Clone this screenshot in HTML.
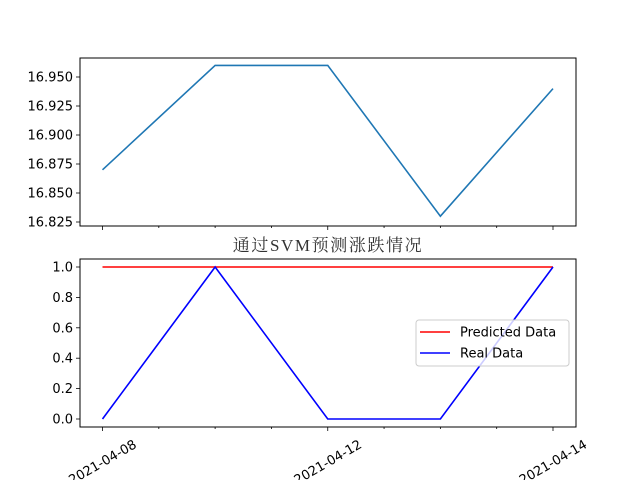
<!DOCTYPE html>
<html><head><meta charset="utf-8"><style>
body{margin:0;background:#fff;}
svg text{font-family:"DejaVu Sans","Liberation Sans",sans-serif;font-size:13px;fill:#000;}
</style></head><body>
<svg id="c" width="640" height="480" xmlns="http://www.w3.org/2000/svg"></svg>
<script>
const categories = ["2021-04-08","2021-04-09","2021-04-12","2021-04-13","2021-04-14"];
const tickLabels = ["2021-04-08","","2021-04-12","","2021-04-14"];
const priceValues = [16.87,16.96,16.96,16.83,16.94];
const priceTicks = [16.825,16.850,16.875,16.900,16.925,16.950];
const predictedValues = [1,1,1,1,1];
const realValues = [0,1,0,0,1];
const binTicks = [0.0,0.2,0.4,0.6,0.8,1.0];

const NS="http://www.w3.org/2000/svg";
const svg=document.getElementById('c');
function mk(tag,attrs,parent){const e=document.createElementNS(NS,tag);for(const k in attrs)e.setAttribute(k,attrs[k]);(parent||svg).appendChild(e);return e;}
const L=80,R=576;
const xs=i=>102.5+i*(450.5/(categories.length-1));
const T1=58,B1=226;
const y1=v=>222-(v-16.825)*(29/0.025);
const T2=259,B2=427;
const y2=v=>419-v*152;

function axes(top,bottom,name,ticks,yf,fmt){
  const g=mk('g',{});
  
  
  ticks.forEach(t=>{
    const y=yf(t);
    mk('line',{x1:L-4,x2:L,y1:y,y2:y,stroke:'#000','stroke-width':0.8},g);
    const tx=mk('text',{x:L-7,y:y+4.5,'text-anchor':'end'},g);
    tx.textContent=fmt(t);
    
    
  });
  for(let k=0;k<=2*(categories.length-1);k++){
    const x=102.5+k*(450.5/(2*(categories.length-1)));
    const major=k%2===0&&tickLabels[k/2]!=="";
    mk('line',{x1:x,x2:x,y1:bottom,y2:bottom+(major?4:2),stroke:'#000','stroke-width':0.8},g);
  }
  return g;
}
function frame(top,bottom,name){
  const r=mk('rect',{x:L,y:top,width:R-L,height:bottom-top,fill:'none',stroke:'#000','stroke-width':1});
  
  
}
axes(T1,B1,'top-y-axis',priceTicks,y1,t=>t.toFixed(3));
axes(T2,B2,'bottom-y-axis',binTicks,y2,t=>t.toFixed(1));

function line(vals,yf,color,name){
  const p=mk('polyline',{points:vals.map((v,i)=>xs(i)+','+yf(v)).join(' '),fill:'none',stroke:color,'stroke-width':1.6});
  
  
}
line(priceValues,y1,'#1f77b4','price-line');
line(predictedValues,y2,'#ff0000','predicted-line');
line(realValues,y2,'#0000ff','real-line');
frame(T1,B1,'top-plot-frame');
frame(T2,B2,'bottom-plot-frame');

tickLabels.forEach((lab,i)=>{
  if(!lab)return;
  const x=xs(i);
  const cy=462;
  const t=mk('text',{x:x,y:cy+4.5,'text-anchor':'middle',transform:`rotate(-30 ${x} ${cy})`});
  t.textContent=lab;
  
  
});

const tt=mk('text',{x:328,y:251,'text-anchor':'middle',style:'font-family:"Liberation Serif","Noto Serif CJK SC",serif;font-size:17px;letter-spacing:1.6px;fill:#333'});
tt.textContent='通过SVM预测涨跌情况';



const lg=mk('g',{});


mk('rect',{x:416,y:320,width:153,height:46,rx:3,fill:'rgba(255,255,255,0.8)',stroke:'#ccc','stroke-width':1},lg);
[['Predicted Data','#ff0000',332],['Real Data','#0000ff',353]].forEach(([n,c,y])=>{
  const e=mk('g',{},lg);
  
  
  mk('line',{x1:420,x2:450,y1:y,y2:y,stroke:c,'stroke-width':1.6},e);
  const t=mk('text',{x:460,y:y+4.5},e);
  t.textContent=n;
});
</script>
</body></html>
